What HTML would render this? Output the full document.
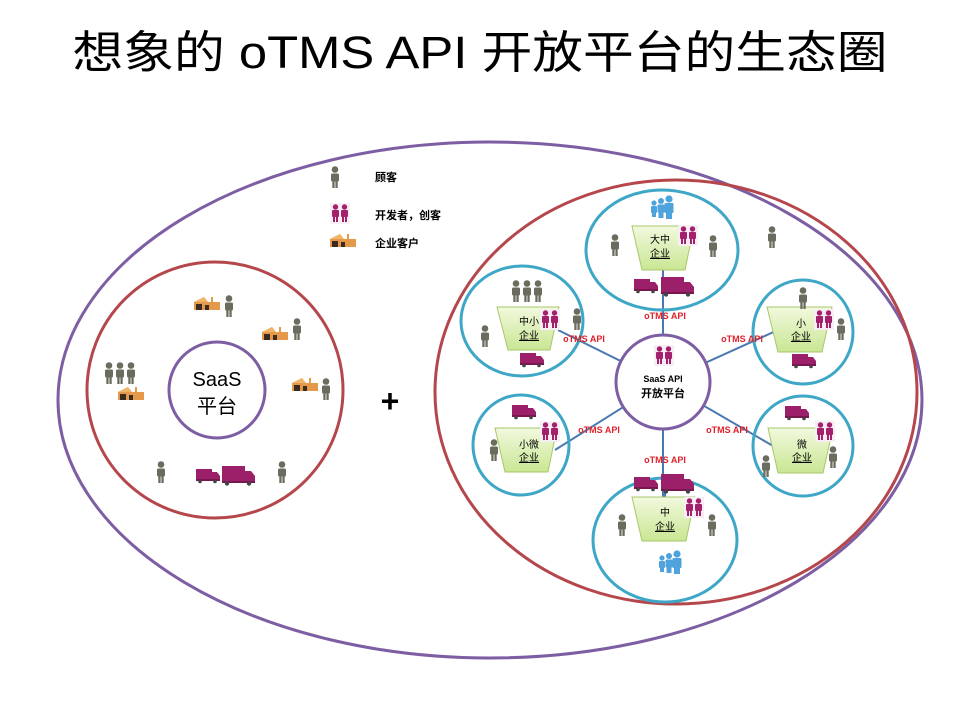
<!DOCTYPE html>
<html><head><meta charset="utf-8"><style>
html,body{margin:0;padding:0;background:#fff;}
svg{display:block;}
text{font-family:"Liberation Sans","Noto Sans CJK SC",sans-serif;}
</style></head><body>
<svg width="960" height="720" viewBox="0 0 960 720" xmlns="http://www.w3.org/2000/svg">
<defs>
<g id="p"><circle cx="5" cy="3.5" r="3.3" fill="#6b6b5e"/><rect x="1" y="7.5" width="8" height="8" rx="1.5" fill="#6b6b5e"/><rect x="2.3" y="14" width="2.3" height="8" fill="#6b6b5e"/><rect x="5.4" y="14" width="2.3" height="8" fill="#6b6b5e"/></g>
<g id="pk"><rect x="-1" y="-1" width="20" height="21" fill="#f6eef2"/><g fill="#a3206c"><circle cx="4.5" cy="3" r="2.7"/><rect x="1" y="6" width="7" height="7" rx="1"/><rect x="2" y="12" width="2" height="6"/><rect x="5" y="12" width="2" height="6"/><circle cx="13.5" cy="3" r="2.7"/><rect x="10" y="6" width="7" height="7" rx="1"/><rect x="11" y="12" width="2" height="6"/><rect x="14" y="12" width="2" height="6"/></g></g>
<g id="ts"><rect x="0" y="0" width="16" height="10" fill="#9c1f6a"/><path d="M16 3h5l3 4v4h-8z" fill="#9c1f6a"/><rect x="0" y="10" width="24" height="2" fill="#7a1550"/><circle cx="4" cy="12.5" r="1.8" fill="#444"/><circle cx="19" cy="12.5" r="1.8" fill="#444"/></g>
<g id="tb"><rect x="0" y="0" width="23" height="15" fill="#9c1f6a"/><path d="M23 5h6l4 5v6h-10z" fill="#9c1f6a"/><rect x="0" y="15" width="33" height="2" fill="#7a1550"/><circle cx="5" cy="17.5" r="2.2" fill="#444"/><circle cx="27" cy="17.5" r="2.2" fill="#444"/></g>
<g id="f"><path d="M0 6 L10 1 L14 6 L17 6 L17 1 L19 1 L19 6 L26 6 L26 14 L0 14z" fill="#e49a4a"/><path d="M0 6 L10 1 L14 6z" fill="#f1b468"/><rect x="2" y="8" width="6" height="6" fill="#3b2a20"/><rect x="11" y="9" width="4" height="5" fill="#3b2a20"/></g>
<g id="bl" fill="#4fa3dc"><circle cx="4" cy="8" r="2.6"/><rect x="1" y="11" width="6" height="7" rx="1"/><rect x="2" y="17" width="4" height="5"/><circle cx="11" cy="6" r="3"/><rect x="7.5" y="9.5" width="7" height="8" rx="1"/><rect x="8.5" y="17" width="5" height="6"/><circle cx="19" cy="4" r="3.6"/><rect x="14.5" y="8" width="9" height="10" rx="1"/><rect x="16" y="17" width="6" height="7"/></g>
<linearGradient id="g" x1="0" y1="0" x2="0" y2="1"><stop offset="0" stop-color="#f2f9de"/><stop offset="1" stop-color="#c9e693"/></linearGradient>
</defs>

<text x="480" y="68" text-anchor="middle" font-size="45" textLength="815" lengthAdjust="spacingAndGlyphs" fill="#000">想象的 oTMS API 开放平台的生态圈</text>

<ellipse cx="490" cy="400" rx="432" ry="258" fill="none" stroke="#7d5ea3" stroke-width="3"/>
<circle cx="215" cy="390" r="128" fill="none" stroke="#b5474c" stroke-width="3"/>
<circle cx="217" cy="390" r="48" fill="#fff" stroke="#7d5ea3" stroke-width="3"/>
<text x="217" y="386" text-anchor="middle" font-size="20">SaaS</text>
<text x="217" y="413" text-anchor="middle" font-size="20">平台</text>
<ellipse cx="676" cy="392" rx="241" ry="212" fill="none" stroke="#b5474c" stroke-width="3"/>
<text x="390" y="412" text-anchor="middle" font-size="32" font-weight="bold">+</text>

<!-- legend -->
<use href="#p" x="330" y="166"/><text x="375" y="181" font-size="11" font-weight="bold">顾客</text>
<use href="#pk" x="331" y="204"/><text x="375" y="219" font-size="11" font-weight="bold">开发者，创客</text>
<use href="#f" x="330" y="233"/><text x="375" y="247" font-size="11" font-weight="bold">企业客户</text>

<!-- left circle items -->
<use href="#f" x="194" y="296"/><use href="#p" x="224" y="295"/>
<use href="#f" x="262" y="326"/><use href="#p" x="292" y="318"/>
<use href="#p" x="104" y="362"/><use href="#p" x="115" y="362"/><use href="#p" x="126" y="362"/><use href="#f" x="118" y="386"/>
<use href="#f" x="292" y="377"/><use href="#p" x="321" y="378"/>
<use href="#p" x="156" y="461"/><use href="#ts" x="196" y="469"/><use href="#tb" x="222" y="466"/><use href="#p" x="277" y="461"/>

<!-- connectors -->
<g stroke="#4a78b0" stroke-width="2">
<line x1="663" y1="382" x2="663" y2="270"/>
<line x1="663" y1="382" x2="558" y2="330"/>
<line x1="663" y1="382" x2="778" y2="330"/>
<line x1="663" y1="382" x2="555" y2="450"/>
<line x1="663" y1="382" x2="780" y2="450"/>
<line x1="663" y1="382" x2="663" y2="500"/>
</g>

<!-- blue ellipses -->
<g fill="none" stroke="#3ea6c6" stroke-width="3">
<ellipse cx="662" cy="250" rx="76" ry="60"/>
<ellipse cx="522" cy="321" rx="61" ry="55"/>
<ellipse cx="803" cy="332" rx="50" ry="52"/>
<ellipse cx="521" cy="445" rx="48" ry="50"/>
<ellipse cx="803" cy="446" rx="50" ry="50"/>
<ellipse cx="665" cy="540" rx="72" ry="62"/>
</g>
<line x1="663" y1="250" x2="663" y2="290" stroke="#4a78b0" stroke-width="2"/>
<line x1="665" y1="480" x2="665" y2="500" stroke="#4a78b0" stroke-width="2"/>

<!-- center -->
<circle cx="663" cy="382" r="47" fill="#fff" stroke="#7d5ea3" stroke-width="3"/>
<use href="#pk" x="655" y="346"/>
<text x="663" y="382" text-anchor="middle" font-size="9" font-weight="bold">SaaS API</text>
<text x="663" y="397" text-anchor="middle" font-size="11" font-weight="bold">开放平台</text>

<!-- trapezoids -->
<g fill="url(#g)" stroke="#a9c76a" stroke-width="1">
<path d="M632 226 L694 226 L685 270 L642 270z"/>
<path d="M497 307 L559 307 L550 350 L508 350z"/>
<path d="M767 307 L832 307 L822 352 L778 352z"/>
<path d="M495 428 L557 428 L548 472 L505 472z"/>
<path d="M768 428 L833 428 L823 473 L778 473z"/>
<path d="M632 497 L695 497 L686 541 L642 541z"/>
</g>
<g font-size="10" text-anchor="middle">
<text x="660" y="243">大中</text><text x="660" y="257" text-decoration="underline">企业</text>
<text x="529" y="325">中小</text><text x="529" y="339" text-decoration="underline">企业</text>
<text x="801" y="327">小</text><text x="801" y="340" text-decoration="underline">企业</text>
<text x="529" y="448">小微</text><text x="529" y="461" text-decoration="underline">企业</text>
<text x="802" y="448">微</text><text x="802" y="461" text-decoration="underline">企业</text>
<text x="665" y="516">中</text><text x="665" y="530" text-decoration="underline">企业</text>
</g>

<!-- top ellipse icons -->
<use href="#bl" x="650" y="195"/><use href="#pk" x="679" y="226"/>
<use href="#p" x="610" y="234"/><use href="#p" x="708" y="235"/>
<use href="#ts" x="634" y="279"/><use href="#tb" x="661" y="277"/>
<use href="#p" x="767" y="226"/>
<!-- top-left -->
<use href="#p" x="511" y="280"/><use href="#p" x="522" y="280"/><use href="#p" x="533" y="280"/>
<use href="#pk" x="541" y="310"/><use href="#p" x="480" y="325"/><use href="#p" x="572" y="308"/>
<use href="#ts" x="520" y="353"/>
<!-- top-right -->
<use href="#p" x="798" y="287"/><use href="#pk" x="815" y="310"/><use href="#p" x="836" y="318"/>
<use href="#ts" x="792" y="354"/>
<!-- bottom-left -->
<use href="#ts" x="512" y="405"/><use href="#pk" x="541" y="422"/><use href="#p" x="489" y="439"/>
<!-- bottom-right -->
<use href="#ts" x="785" y="406"/><use href="#pk" x="816" y="422"/><use href="#p" x="761" y="455"/><use href="#p" x="828" y="446"/>
<!-- bottom -->
<use href="#ts" x="634" y="477"/><use href="#tb" x="661" y="474"/><use href="#pk" x="685" y="498"/>
<use href="#p" x="617" y="514"/><use href="#p" x="707" y="514"/><use href="#bl" x="658" y="550"/>

<!-- API labels -->
<g font-size="9" font-weight="bold" fill="#e0202a" text-anchor="middle">
<text x="665" y="319">oTMS API</text>
<text x="584" y="342">oTMS API</text>
<text x="742" y="342">oTMS API</text>
<text x="599" y="433">oTMS API</text>
<text x="727" y="433">oTMS API</text>
<text x="665" y="463">oTMS API</text>
</g>
</svg>
</body></html>
